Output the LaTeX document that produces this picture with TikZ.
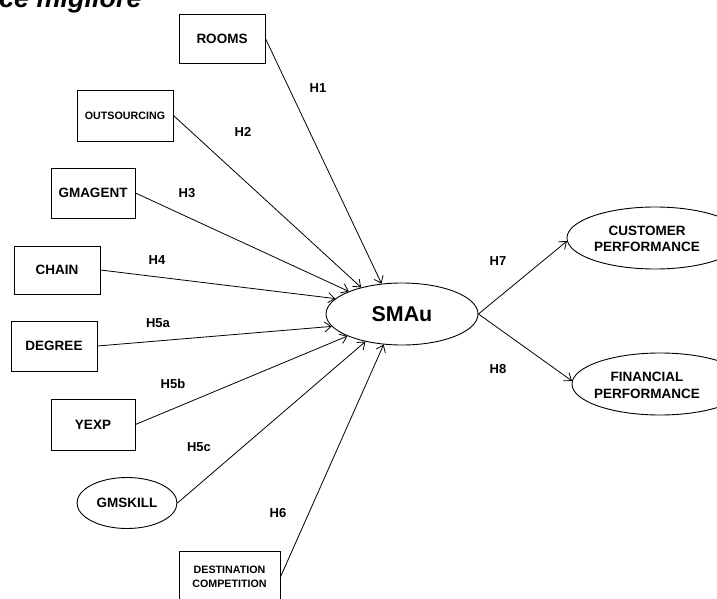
\documentclass[tikz,border=0pt]{standalone}
\usepackage{fontspec}
\setmainfont{Liberation Sans}
\usetikzlibrary{arrows.meta,shapes.geometric}
\tikzset{
  var/.style={draw, line width=0.9pt, inner sep=0pt, align=center, font=\fontsize{13.5}{16.5}\selectfont\bfseries},
  varsmall/.style={var, font=\fontsize{10.7}{13.5}\selectfont\bfseries},
  lat/.style={var, ellipse},
  lab/.style={inner sep=0pt, font=\fontsize{13}{15}\selectfont\bfseries},
  link/.style={line width=0.8pt, -{Straight Barb[length=6.5pt,width=10pt]}},
}
\begin{document}
\begin{tikzpicture}[x=1pt,y=-1pt]
\useasboundingbox (0,0) rectangle (717,599);
% header fragment
\node[anchor=base west, inner sep=0pt, font=\fontsize{27}{30}\selectfont\bfseries\itshape] (head) at (-1,7.5) {ce migliore};
% predictors
\node[var, minimum width=86, minimum height=49] (rooms) at (222,38.5) {ROOMS};
\node[varsmall, minimum width=96, minimum height=51] (outs) at (125,115.5) {OUTSOURCING};
\node[var, minimum width=84, minimum height=50] (gmag) at (93,193) {GMAGENT};
\node[var, minimum width=86, minimum height=48] (chain) at (57,270) {CHAIN};
\node[var, minimum width=86, minimum height=50] (degree) at (54,346) {DEGREE};
\node[var, minimum width=84, minimum height=51] (yexp) at (93,424.5) {YEXP};
\node[lat, minimum width=100, minimum height=51] (gmskill) at (127,503) {GMSKILL};
\node[varsmall, minimum width=101, minimum height=52] (dest) at (229.5,577) {DESTINATION\\COMPETITION};
% central construct
\node[lat, minimum width=152, minimum height=62, font=\fontsize{21.4}{24}\selectfont\bfseries] (smau) at (402,314) {SMAu};
% outcomes
\node[lat, minimum width=176, minimum height=62] (cp) at (655,238) {};
\node[lab, align=center, font=\fontsize{13.5}{16.5}\selectfont\bfseries] (cpt) at (647,239) {CUSTOMER\\PERFORMANCE};
\node[lat, minimum width=176, minimum height=62] (fp) at (660,384) {};
\node[lab, align=center, font=\fontsize{13.5}{16.5}\selectfont\bfseries] (fpt) at (647,385.5) {FINANCIAL\\PERFORMANCE};
% connectors
\draw[link] (rooms.east) -- (smau.124);
\draw[link] (outs.east) -- (smau.147);
\draw[link] (gmag.east) -- (smau.157);
\draw[link] (chain.east) -- (smau.167);
\draw[link] (degree.east) -- (smau.190);
\draw[link] (yexp.east) -- (smau.202);
\draw[link] (gmskill.east) -- (smau.217);
\draw[link] (dest.east) -- (smau.239);
\draw[link] (smau.east) -- (cp.182);
\draw[link] (smau.east) -- (fp.178);
% hypothesis labels
\node[lab] (h1) at (318,88) {H1};
\node[lab] (h2) at (243,132) {H2};
\node[lab] (h3) at (187,193) {H3};
\node[lab] (h4) at (157,260) {H4};
\node[lab] (h5a) at (158,323) {H5a};
\node[lab] (h5b) at (173,384) {H5b};
\node[lab] (h5c) at (199,447) {H5c};
\node[lab] (h6) at (278,513) {H6};
\node[lab] (h7) at (498,261) {H7};
\node[lab] (h8) at (498,369) {H8};
\end{tikzpicture}
\end{document}
